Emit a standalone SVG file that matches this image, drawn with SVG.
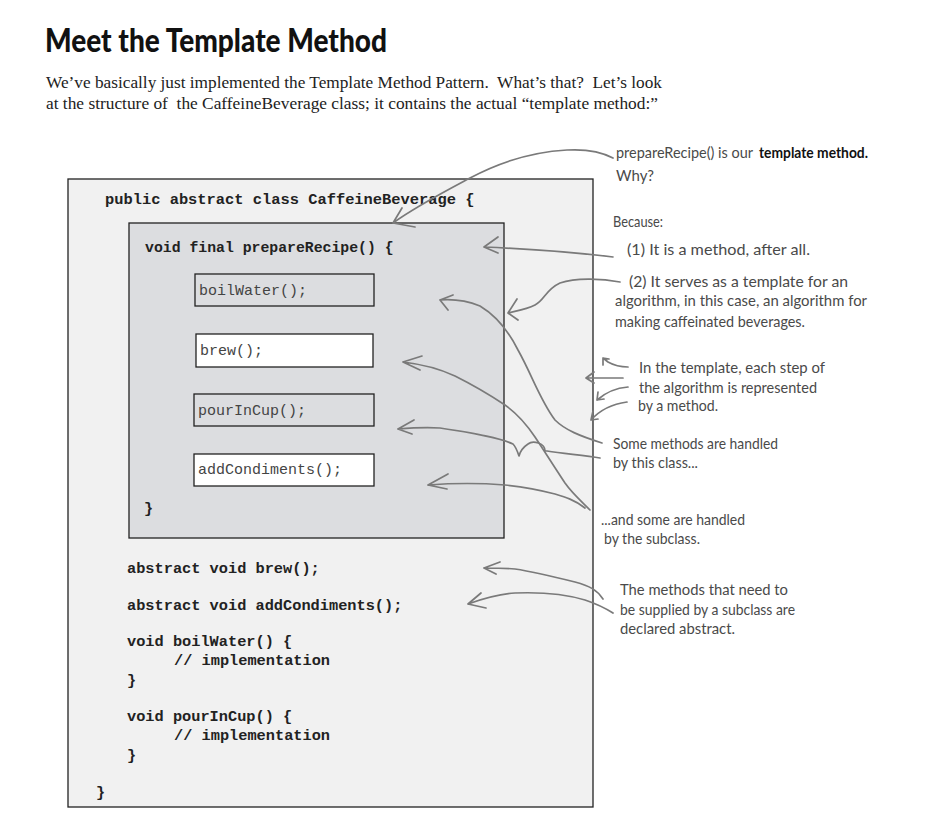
<svg xmlns="http://www.w3.org/2000/svg" width="940" height="835" viewBox="0 0 940 835">
<style>
.code{font-family:"Liberation Mono",monospace;font-weight:bold;font-size:15.3px;fill:#222}
.meth{font-family:"Liberation Mono",monospace;font-size:15px;fill:#444}
.note{font-family:"Lato","Open Sans",sans-serif;font-size:15px;fill:#4a4a4a}
.body{font-family:"Liberation Serif",serif;font-size:16.5px;fill:#222;white-space:pre}
.arr{fill:none;stroke:#7a7a7a;stroke-width:1.7;stroke-linecap:round;stroke-linejoin:round}
.box{stroke:#222;stroke-width:1.3}
</style>
<rect width="940" height="835" fill="#ffffff"/>
<g id="title">
<text x="45" y="52" font-family="Lato,'Liberation Sans',sans-serif" font-weight="900" font-size="32" fill="#111" textLength="342" lengthAdjust="spacingAndGlyphs">Meet the Template Method</text>
<text class="body" x="46" y="88" textLength="616" lengthAdjust="spacingAndGlyphs" xml:space="preserve">We’ve basically just implemented the Template Method Pattern.  What’s that?  Let’s look</text>
<text class="body" x="46" y="109" textLength="612" lengthAdjust="spacingAndGlyphs" xml:space="preserve">at the structure of  the CaffeineBeverage class; it contains the actual “template method:”</text>
</g>
<g id="class-box">
<rect class="box" x="68" y="179" width="525" height="628" fill="#f1f1f1"/>
<text class="code" x="105" y="204" style="font-size:15.4px">public abstract class CaffeineBeverage {</text>
</g>
<g id="template-method">
<rect class="box" x="129" y="223" width="375" height="315" fill="#dcdde0"/>
<text class="code" x="145" y="252" style="font-size:14.8px">void final prepareRecipe() {</text>
<text class="code" x="144" y="513">}</text>
</g>
<g id="step-boilWater">
<rect class="box" x="195" y="274" width="179" height="32" fill="#dcdde0"/>
<text class="meth" x="199" y="295">boilWater();</text>
</g>
<g id="step-brew">
<rect class="box" x="196" y="334" width="177" height="33" fill="#ffffff"/>
<text class="meth" x="200" y="355">brew();</text>
</g>
<g id="step-pourInCup">
<rect class="box" x="194" y="394" width="180" height="32" fill="#dcdde0"/>
<text class="meth" x="198" y="415">pourInCup();</text>
</g>
<g id="step-addCondiments">
<rect class="box" x="194" y="454" width="180" height="32" fill="#ffffff"/>
<text class="meth" x="198" y="474">addCondiments();</text>
</g>
<g id="methods">
<text class="code" x="127" y="573">abstract void brew();</text>
<text class="code" x="127" y="610">abstract void addCondiments();</text>
<text class="code" x="127" y="646">void boilWater() {</text>
<text class="code" x="174" y="665">// implementation</text>
<text class="code" x="127" y="685">}</text>
<text class="code" x="127" y="721">void pourInCup() {</text>
<text class="code" x="174" y="740">// implementation</text>
<text class="code" x="127" y="760">}</text>
<text class="code" x="96" y="797">}</text>
</g>
<g id="notes">
<text class="note" x="616" y="158" textLength="137" lengthAdjust="spacingAndGlyphs">prepareRecipe() is our</text>
<text class="note" x="759" y="158" textLength="109" lengthAdjust="spacingAndGlyphs" style="fill:#111;font-weight:bold">template method.</text>
<text class="note" x="616" y="181">Why?</text>
<text class="note" x="613" y="227" textLength="50" lengthAdjust="spacingAndGlyphs">Because:</text>
<text class="note" x="627" y="255" textLength="183" lengthAdjust="spacingAndGlyphs">(1) It is a method, after all.</text>
<text class="note" x="629" y="287" textLength="219" lengthAdjust="spacingAndGlyphs">(2) It serves as a template for an</text>
<text class="note" x="615" y="306" textLength="252" lengthAdjust="spacingAndGlyphs">algorithm, in this case, an algorithm for</text>
<text class="note" x="615" y="327" textLength="190" lengthAdjust="spacingAndGlyphs">making caffeinated beverages.</text>
<text class="note" x="639" y="373" textLength="186" lengthAdjust="spacingAndGlyphs">In the template, each step of</text>
<text class="note" x="639" y="393" textLength="178" lengthAdjust="spacingAndGlyphs">the algorithm is represented</text>
<text class="note" x="638" y="411" textLength="80" lengthAdjust="spacingAndGlyphs">by a method.</text>
<text class="note" x="613" y="449" textLength="165" lengthAdjust="spacingAndGlyphs">Some methods are handled</text>
<text class="note" x="613" y="468" textLength="85" lengthAdjust="spacingAndGlyphs">by this class...</text>
<text class="note" x="601" y="525" textLength="144" lengthAdjust="spacingAndGlyphs">...and some are handled</text>
<text class="note" x="604" y="544" textLength="96" lengthAdjust="spacingAndGlyphs">by the subclass.</text>
<text class="note" x="620" y="595" textLength="168" lengthAdjust="spacingAndGlyphs">The methods that need to</text>
<text class="note" x="620" y="615" textLength="175" lengthAdjust="spacingAndGlyphs">be supplied by a subclass are</text>
<text class="note" x="620" y="634" textLength="115" lengthAdjust="spacingAndGlyphs">declared abstract.</text>
</g>
<g id="connectors" class="arr">
<path d="M613,158 C600,151 585,149 567,150 C530,152 500,162 470,178 C440,194 415,207 393,223 M393,223 L415,227 M393,223 L402,208"/>
<path d="M613,257 C580,253 530,249 484,247 M484,247 L498,237 M484,247 L498,253"/>
<path d="M620,282 C600,278 575,278 560,283 C545,290 545,300 535,305 C525,310 515,311 508,313 M508,313 L517,299 M508,313 L518,320"/>
<path d="M602,443 C580,436 565,430 555,420 C540,400 532,375 518,350 C508,330 495,315 480,306 C465,300 452,299 440,300 M440,300 L453,295 M440,300 L448,310"/>
<path d="M600,458 C585,455 565,454 547,451 L545,451 C545,443 533,440 528,444 C522,448 520,452 519,456 C517,450 515,446 513,444 C500,438 480,434 440,428 C425,427 410,428 398,429 M398,429 L414,420 M398,429 L412,434"/>
<path d="M590,510 C580,500 572,493 565,483 C555,468 545,452 535,437 C525,422 515,412 505,405 C490,395 475,386 455,376 C440,369 420,364 403,362 M403,362 L422,356 M403,362 L420,370"/>
<path d="M585,508 C575,500 565,497 555,494 C540,490 525,487 505,485 C480,483 455,483 428,485 M428,485 L448,474 M428,485 L447,489"/>
<path d="M628,367 C620,367 615,366 608,362 L603,358 M603,358 L603,365 M603,358 L609,359"/>
<path d="M623,378 C612,378 600,378 586,378 M586,378 L594,372 M586,378 L594,383"/>
<path d="M628,387 C615,388 605,393 597,400 M597,400 L598,392 M597,400 L604,399"/>
<path d="M627,402 C612,404 600,410 591,420 M591,420 L593,411 M591,420 L598,419"/>
<path d="M603,599 C597,590 590,586 575,582 C555,577 535,572 515,569 C505,568 495,568 484,568 M484,568 L500,562 M484,568 L496,574"/>
<path d="M613,613 C605,608 597,604 585,600 C565,594 540,592 515,593 C500,594 485,598 468,604 M468,604 L481,593 M468,604 L486,608"/>
</g>
</svg>
